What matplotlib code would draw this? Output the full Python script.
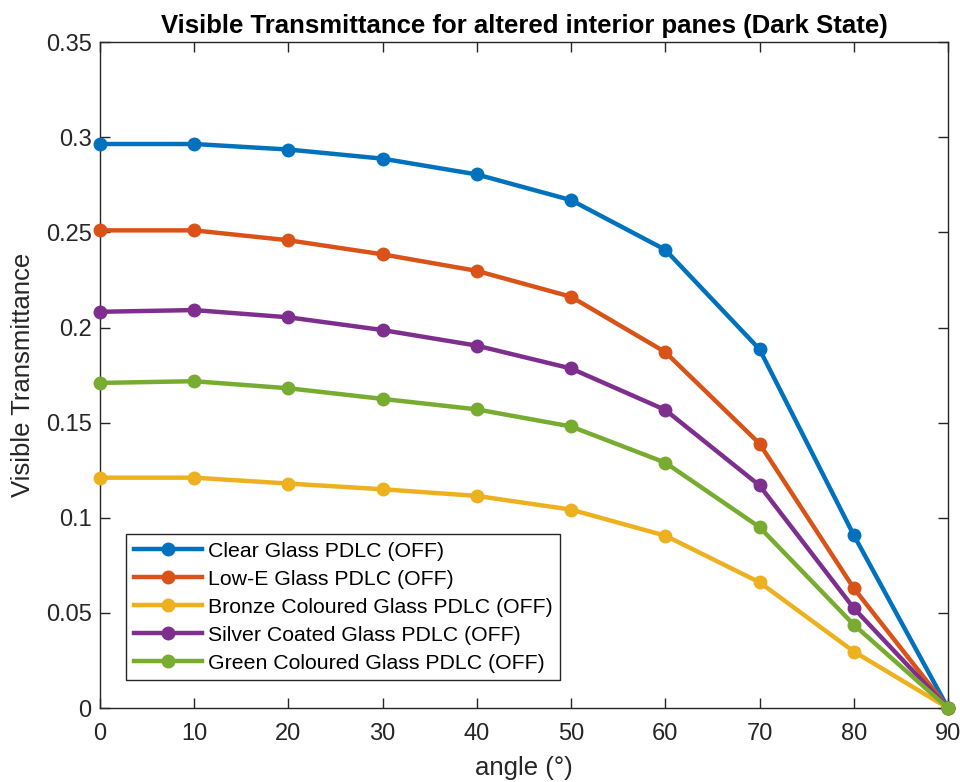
import matplotlib.pyplot as plt

plt.rcParams["font.family"] = ["Liberation Sans", "DejaVu Sans"]

angles = [0, 10, 20, 30, 40, 50, 60, 70, 80, 90]

clear_glass = [0.2965, 0.2965, 0.2936, 0.2888, 0.2805, 0.2670, 0.2409, 0.1886, 0.0909, 0.0]
low_e_glass = [0.2511, 0.2511, 0.2459, 0.2385, 0.2298, 0.2162, 0.1871, 0.1390, 0.0630, 0.0]
bronze_glass = [0.1211, 0.1211, 0.1180, 0.1150, 0.1115, 0.1043, 0.0906, 0.0661, 0.0297, 0.0]
silver_glass = [0.2083, 0.2092, 0.2054, 0.1987, 0.1905, 0.1785, 0.1567, 0.1170, 0.0525, 0.0]
green_glass = [0.1709, 0.1718, 0.1681, 0.1625, 0.1570, 0.1480, 0.1290, 0.0951, 0.0438, 0.0]

labels = [
    "Clear Glass PDLC (OFF)",
    "Low-E Glass PDLC (OFF)",
    "Bronze Coloured Glass PDLC (OFF)",
    "Silver Coated Glass PDLC (OFF)",
    "Green Coloured Glass PDLC (OFF)",
]
colors = ["#0072BD", "#D95319", "#EDB120", "#7E2F8E", "#77AC30"]

y_ticks = [0, 0.05, 0.1, 0.15, 0.2, 0.25, 0.3, 0.35]
y_tick_labels = ["0", "0.05", "0.1", "0.15", "0.2", "0.25", "0.3", "0.35"]

fig = plt.figure(figsize=(9.6, 7.82), dpi=100)
ax = fig.add_axes([0.104, 0.0946, 0.8835, 0.8514])

series = [clear_glass, low_e_glass, bronze_glass, silver_glass, green_glass]
for values, label, color in zip(series, labels, colors):
    ax.plot(angles, values, color=color, linewidth=3.2, marker="o",
            markersize=9, label=label, clip_on=False, zorder=3)

ax.set_xlim(0, 90)
ax.set_ylim(0, 0.35)
ax.set_xticks(angles)
ax.set_yticks(y_ticks)
ax.set_yticklabels(y_tick_labels)

axis_color = "#262626"
for spine in ax.spines.values():
    spine.set_color(axis_color)
    spine.set_linewidth(1.0)
ax.tick_params(direction="in", length=7, width=1, colors=axis_color,
               labelsize=17, top=True, right=True)
ax.tick_params(axis="x", pad=11)
ax.tick_params(axis="y", pad=6)

ax.set_title("Visible Transmittance for altered interior panes (Dark State)",
             fontsize=18.5, fontweight="bold", pad=7)
ax.set_xlabel("angle (°)", fontsize=18.5, color=axis_color, labelpad=8)
ax.set_ylabel("Visible Transmittance", fontsize=18.5, color=axis_color, labelpad=8)

leg = ax.legend(loc="lower left", bbox_to_anchor=(0.031, 0.042), fontsize=15.3,
                frameon=True, fancybox=False, handlelength=3.2,
                handletextpad=0.3, labelspacing=0.42, borderpad=0.35,
                borderaxespad=0)
leg.get_frame().set_edgecolor(axis_color)
leg.get_frame().set_linewidth(1.0)
leg.get_frame().set_alpha(1.0)

fig.savefig("out.png", dpi=100)
